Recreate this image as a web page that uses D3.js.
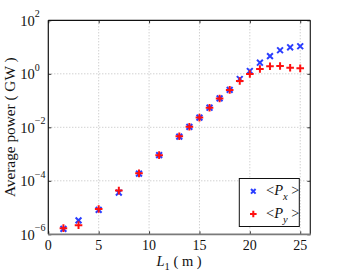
<!DOCTYPE html>
<html><head><meta charset="utf-8">
<script src="https://cdn.jsdelivr.net/npm/d3@7"></script>
<style>
html,body{margin:0;padding:0;background:#fff;}
svg{display:block;font-family:"Liberation Serif","Times New Roman",serif;}
</style></head>
<body>
<svg id="c" width="343" height="275"></svg>
<script>
const L1 = [1.5,3,5,7,9,11,13,14,15,16,17,18,19,20,21,22,23,24,25];
const Px = [1.6e-6,3.3e-6,8.2e-6,3.6e-5,1.85e-4,9.1e-4,4.5e-3,1.04e-2,2.3e-2,5.4e-2,0.12,0.25,0.64,1.27,2.6,4.6,7.6,9.8,10.7];
const Py = [1.7e-6,2.2e-6,8.8e-6,4.3e-5,1.9e-4,9.1e-4,4.6e-3,1.05e-2,2.3e-2,5.4e-2,0.12,0.25,0.54,0.98,1.51,1.91,1.96,1.69,1.6];
const xTicks = [0,5,10,15,20,25];
const yTickExps = [-6,-4,-2,0,2];
const xLabel = "L";
const xLabelSub = "1";
const xLabelRest = " ( m )";
const yLabel = "Average power ( GW )";
const legendNames = [["P","x"],["P","y"]];

const svg = d3.select("#c");
const L = 48.3, R = 310.3, T = 20.3, B = 234.3;
const x = d3.scaleLinear().domain([0,26]).range([L,R]);
const y = d3.scaleLog().domain([1e-6,1e2]).range([B,T]);
const yTicks = yTickExps.map(e => Math.pow(10,e));

// grid
const g = svg.append("g");
g.selectAll(".gx").data(xTicks.filter(d=>d>0)).enter().append("line")
  .attr("x1",d=>x(d)).attr("x2",d=>x(d)).attr("y1",T).attr("y2",B)
  .attr("stroke","#bdbdbd").attr("stroke-width",1).attr("stroke-dasharray","1,2");
g.selectAll(".gy").data(yTicks.slice(1,-1)).enter().append("line")
  .attr("y1",d=>y(d)).attr("y2",d=>y(d)).attr("x1",L).attr("x2",R)
  .attr("stroke","#bdbdbd").attr("stroke-width",1).attr("stroke-dasharray","1,2");

// axes tick marks (inward)
const tk = 3;
function tickStyle(sel){ sel.select(".domain").remove(); sel.selectAll("text").remove(); sel.selectAll("line").attr("stroke","#333"); }
svg.append("g").attr("transform",`translate(0,${B})`).call(d3.axisBottom(x).tickValues(xTicks).tickSizeInner(-tk).tickSizeOuter(0)).call(tickStyle);
svg.append("g").attr("transform",`translate(0,${T})`).call(d3.axisTop(x).tickValues(xTicks).tickSizeInner(-tk).tickSizeOuter(0)).call(tickStyle);
svg.append("g").attr("transform",`translate(${L},0)`).call(d3.axisLeft(y).tickValues(yTicks).tickSizeInner(-tk).tickSizeOuter(0)).call(tickStyle);
svg.append("g").attr("transform",`translate(${R},0)`).call(d3.axisRight(y).tickValues(yTicks).tickSizeInner(-tk).tickSizeOuter(0)).call(tickStyle);

// frame
svg.append("line").attr("x1",L).attr("x2",R).attr("y1",T).attr("y2",T).attr("stroke","#111").attr("stroke-width",1.2);
svg.append("line").attr("x1",R).attr("x2",R).attr("y1",T).attr("y2",B).attr("stroke","#222").attr("stroke-width",1.2);
svg.append("line").attr("x1",L).attr("x2",L).attr("y1",T).attr("y2",B).attr("stroke","#111").attr("stroke-width",1.2);
svg.append("line").attr("x1",L).attr("x2",R+0.6).attr("y1",B).attr("y2",B).attr("stroke","#7a7a7a").attr("stroke-width",1.8);

// tick labels
svg.selectAll(".xl").data(xTicks).enter().append("text")
  .attr("x",d=>x(d)).attr("y",B+15.2).attr("text-anchor","middle")
  .attr("font-size",14).attr("fill","#111").text(d=>d);
const yl = svg.selectAll(".yl").data(yTickExps).enter().append("text")
  .attr("x",20.3).attr("y",d=>y(Math.pow(10,d))+5.6).attr("font-size",14.5).attr("fill","#111");
yl.append("tspan").text("10");
yl.append("tspan").attr("dy",-8.5).attr("font-size",10).text(d=>String(d).replace("-","\u2212"));

// axis labels
const xt = svg.append("text").attr("x",156.5).attr("y",265.6).attr("font-size",14.5).attr("fill","#111");
xt.append("tspan").attr("font-style","italic").text(xLabel);
xt.append("tspan").attr("dy",4).attr("font-size",10.5).text(xLabelSub);
xt.append("tspan").attr("dy",-4).text(xLabelRest);
svg.append("text").attr("transform",`translate(15,${(T+B)/2}) rotate(-90)`)
  .attr("text-anchor","middle").attr("font-size",15.3).attr("fill","#111").text(yLabel);

// markers
const blue = "#2a3dff", red = "#ff1010";
function xMark(sel, s){ sel.append("path").attr("d",`M${-s},${-s}L${s},${s}M${-s},${s}L${s},${-s}`); }
function plusMark(sel, s){ sel.append("path").attr("d",`M${-s},0L${s},0M0,${-s}L0,${s}`); }
const pts = L1.map((d,i)=>({x:d,px:Px[i],py:Py[i]}));
const bx = svg.append("g").attr("stroke",blue).attr("stroke-width",2).attr("fill","none");
bx.selectAll("g").data(pts).enter().append("g")
  .attr("transform",d=>`translate(${x(d.x)},${y(d.px)})`).each(function(){ xMark(d3.select(this),2.9); });
const rp = svg.append("g").attr("stroke",red).attr("stroke-width",2).attr("fill","none");
rp.selectAll("g").data(pts).enter().append("g")
  .attr("transform",d=>`translate(${x(d.x)},${y(d.py)})`).each(function(){ plusMark(d3.select(this),3.8); });

// legend
const lg = svg.append("g");
lg.append("rect").attr("x",239.3).attr("y",178.5).attr("width",60).attr("height",48)
  .attr("fill","#fff").attr("stroke","#111").attr("stroke-width",1);
const lcol = [blue, red];
legendNames.forEach((nm,i)=>{
  const cy = 191.3 + i*22.7;
  const m = lg.append("g").attr("transform",`translate(253.3,${cy})`).attr("stroke",lcol[i]).attr("stroke-width",2).attr("fill","none");
  if(i===0) xMark(m,2.3); else plusMark(m,3.3);
  const t = lg.append("text").attr("x",266).attr("y",cy+4).attr("font-size",14.5).attr("fill","#111");
  t.append("tspan").text("<");
  t.append("tspan").attr("font-style","italic").text(nm[0]);
  t.append("tspan").attr("dy",5).attr("font-size",10.5).attr("font-style","italic").text(nm[1]);
  t.append("tspan").attr("dy",-5).text(" >");
});
</script>
</body></html>
